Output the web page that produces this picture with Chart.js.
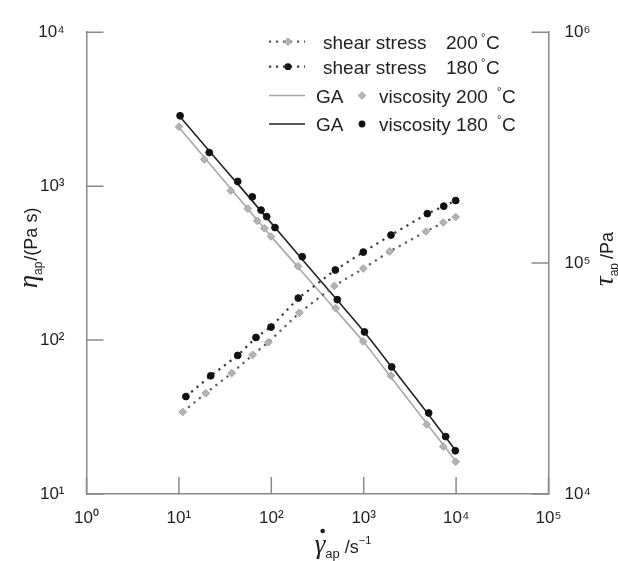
<!DOCTYPE html>
<html><head><meta charset="utf-8">
<script src="https://cdn.jsdelivr.net/npm/chart.js@4/dist/chart.umd.min.js"></script>
<style>html,body{margin:0;padding:0;background:#fff}#wrap{width:618px;height:561px;position:relative}canvas{display:block}</style>
</head><body><div id="wrap"><canvas id="c" width="618" height="561"></canvas></div>
<script>
// ---- data ----
const viscRate180 = [10.3, 21.3, 43.3, 62.3, 77.4, 89.1, 109.6, 216, 518, 1020, 2010, 5050, 7710, 9800];
const visc180     = [2864, 1652, 1072, 852, 699, 634, 538, 348, 183, 113, 66.9, 33.6, 23.6, 19.1];
const viscRate200 = [10, 18.8, 36.4, 55.6, 70.5, 84, 99.3, 194.5, 498, 982, 1974, 4810, 7270, 9900];
const visc200     = [2434, 1490, 935, 714, 595, 532, 471, 302, 161, 98, 58.6, 28.3, 20.3, 16.2];
const shearRate180 = [11.9, 22.1, 43.3, 68.3, 99.3, 196, 493, 990, 1974, 4880, 7350, 9900];
const stress180    = [26430, 32500, 39810, 47640, 52840, 70570, 93330, 111600, 132300, 163700, 176400, 186600];
const shearRate200 = [11, 19.5, 37.3, 62.9, 92.8, 201, 481, 990, 1911, 4720, 7270, 9900];
const stress200    = [22650, 27310, 33360, 40050, 45370, 60930, 79630, 94740, 112300, 137100, 149900, 158300];
const gaRate  = [9.6, 20, 50, 100, 200, 500, 1000, 2000, 5000, 10400];
const ga180   = [2960, 1770, 935, 575, 353, 186, 114, 67, 33, 18.4];
const ga200   = [2480, 1472, 769, 470, 292, 156, 97, 56.7, 27.9, 15.8];
const xTicks     = [1, 10, 100, 1000, 10000, 100000];
const leftTicks  = [10, 100, 1000, 10000];
const rightTicks = [10000, 100000, 1000000];

const FONT = "'Liberation Sans', Arial, Helvetica, sans-serif";
const SERIF = "'Liberation Serif', 'DejaVu Serif', serif";
const AXIS = '#8a8a8a';
const TXT = '#1e1e1e';
const SUP = {0:'\u2070',1:'\u00b9',2:'\u00b2',3:'\u00b3',4:'\u2074',5:'\u2075',6:'\u2076'};
const powLabel = v => { const e = Math.round(Math.log10(v)); return '10' + SUP[e]; };
const pts = (xs, ys) => xs.map((x, i) => ({x: x, y: ys[i]}));

const greyPt = {pointStyle:'rectRot', pointRadius:3.8, pointBackgroundColor:'#b4b4b4', pointBorderColor:'#a2a2a2', pointBorderWidth:1};
const blackPt = {pointStyle:'circle', pointRadius:3.4, pointBackgroundColor:'#111', pointBorderColor:'#111', pointBorderWidth:1};

const datasets = [
  Object.assign({label:'viscosity 180', data: pts(viscRate180, visc180), yAxisID:'y', showLine:false}, blackPt),
  Object.assign({label:'viscosity 200', data: pts(viscRate200, visc200), yAxisID:'y', showLine:false}, greyPt),
  Object.assign({label:'shear stress 180', data: pts(shearRate180, stress180), yAxisID:'y2', showLine:true,
    borderColor:'#3a3a3a', borderWidth:2.2, borderDash:[2.2,4.8], borderCapStyle:'butt'}, blackPt),
  Object.assign({label:'shear stress 200', data: pts(shearRate200, stress200), yAxisID:'y2', showLine:true,
    borderColor:'#5a5a5a', borderWidth:2.2, borderDash:[2.2,4.8], borderCapStyle:'butt'}, greyPt),
  {label:'GA 180', data: pts(gaRate, ga180), yAxisID:'y', showLine:true, borderColor:'#222', borderWidth:1.6, pointRadius:0, cubicInterpolationMode:'monotone'},
  {label:'GA 200', data: pts(gaRate, ga200), yAxisID:'y', showLine:true, borderColor:'#a8a8a8', borderWidth:1.6, pointRadius:0, cubicInterpolationMode:'monotone'}
];

function drawMarker(ctx, kind, x, y) {
  ctx.save();
  if (kind === 'diamond') {
    const r = 3.8;
    ctx.fillStyle = '#b4b4b4'; ctx.strokeStyle = '#a2a2a2'; ctx.lineWidth = 1;
    ctx.beginPath(); ctx.moveTo(x, y - r); ctx.lineTo(x + r, y); ctx.lineTo(x, y + r); ctx.lineTo(x - r, y); ctx.closePath();
    ctx.fill(); ctx.stroke();
  } else {
    ctx.fillStyle = '#111';
    ctx.beginPath(); ctx.arc(x, y, 3.4, 0, Math.PI * 2); ctx.fill();
  }
  ctx.restore();
}

const decor = {
  id: 'decor',
  afterDraw(chart) {
    const ctx = chart.ctx;
    const {x, y, y2} = chart.scales;
    const a = chart.chartArea;
    const TL = 17;
    ctx.save();
    ctx.strokeStyle = AXIS; ctx.lineWidth = 1.5;
    ctx.beginPath();
    xTicks.forEach(v => { const px = x.getPixelForValue(v); ctx.moveTo(px, a.bottom); ctx.lineTo(px, a.bottom - TL); });
    leftTicks.forEach(v => { const py = y.getPixelForValue(v); ctx.moveTo(a.left, py); ctx.lineTo(a.left + TL, py); });
    rightTicks.forEach(v => { const py = y2.getPixelForValue(v); ctx.moveTo(a.right, py); ctx.lineTo(a.right - TL, py); });
    ctx.stroke();
    ctx.restore();

    // legend
    ctx.save();
    ctx.fillStyle = TXT;
    ctx.textBaseline = 'alphabetic';
    const rows = [
      {cy: 41.7, line: 'dot', col: '#5a5a5a', mk: 'diamond', mkx: 288, parts: [['shear stress', 323], ['200', 446]], deg: 481},
      {cy: 66.7, line: 'dot', col: '#3a3a3a', mk: 'dot', mkx: 288, parts: [['shear stress', 323], ['180', 446]], deg: 481},
      {cy: 95.5, line: 'solid', col: '#a8a8a8', mk: 'diamond', mkx: 362, parts: [['GA', 316], ['viscosity 200', 379]], deg: 497},
      {cy: 124, line: 'solid', col: '#222', mk: 'dot', mkx: 362, parts: [['GA', 316], ['viscosity 180', 379]], deg: 497}
    ];
    rows.forEach(r => {
      ctx.save();
      ctx.strokeStyle = r.col;
      if (r.line === 'dot') { ctx.lineWidth = 2.2; ctx.setLineDash([2.2, 4.8]); }
      else { ctx.lineWidth = 1.6; }
      ctx.beginPath(); ctx.moveTo(269, r.cy); ctx.lineTo(305, r.cy); ctx.stroke();
      ctx.restore();
      drawMarker(ctx, r.mk, r.mkx, r.cy);
      ctx.font = '19px ' + FONT;
      r.parts.forEach(p => ctx.fillText(p[0], p[1], r.cy + 7));
      ctx.font = '11px ' + FONT;
      ctx.fillText('\u00b0', r.deg, r.cy - 1);
      ctx.font = '19px ' + FONT;
      ctx.fillText('C', r.deg + 5, r.cy + 7);
    });
    ctx.restore();

    // axis titles
    function seq(parts) {
      let w = 0; parts.forEach(p => { ctx.font = p[1]; p.w = ctx.measureText(p[0]).width; w += p.w + (p[3] || 0); });
      return w;
    }
    function drawSeq(parts, x0, y0) {
      let cx = x0;
      parts.forEach(p => { ctx.font = p[1]; ctx.fillText(p[0], cx, y0 + p[2]); cx += p.w + (p[3] || 0); });
    }
    ctx.save();
    ctx.fillStyle = TXT; ctx.textBaseline = 'alphabetic';
    const lp = [['\u03b7', 'italic 27px ' + SERIF, 0], ['ap', '12px ' + FONT, 5, 1], ['/(Pa s)', '18px ' + FONT, 0]];
    const lw = seq(lp);
    ctx.save(); ctx.translate(37, 248 + lw / 2); ctx.rotate(-Math.PI / 2); drawSeq(lp, 0, 0); ctx.restore();
    const rp = [['\u03c4', 'italic 27px ' + SERIF, 0], ['ap', '12px ' + FONT, 5, 4], ['/Pa', '18px ' + FONT, 0]];
    const rw = seq(rp);
    ctx.save(); ctx.translate(613, 259 + rw / 2); ctx.rotate(-Math.PI / 2); drawSeq(rp, 0, 0); ctx.restore();
    const bp = [['\u03b3', 'italic 27px ' + SERIF, 0], ['ap', '13px ' + FONT, 5, 5], ['/s', '18px ' + FONT, 0], ['\u22121', '11px ' + FONT, -9]];
    const bw = seq(bp);
    const bx = 343 - bw / 2;
    drawSeq(bp, bx, 553);
    ctx.beginPath(); ctx.arc(bx + 8, 531, 2.3, 0, Math.PI * 2); ctx.fill();
    ctx.restore();
  }
};

const tickFont = {size: 17, family: FONT};
new Chart(document.getElementById('c'), {
  type: 'scatter',
  data: {datasets: datasets},
  options: {
    responsive: false, animation: false, devicePixelRatio: 1,
    layout: {padding: {top: 25, left: 0, right: 0, bottom: 0}},
    plugins: {legend: {display: false}, tooltip: {enabled: false}},
    scales: {
      x: {type: 'logarithmic', position: 'bottom', min: 1, max: 100000,
        afterBuildTicks: s => { s.ticks = xTicks.map(v => ({value: v})); },
        afterFit: s => { s.height = 67; },
        grid: {display: true, drawOnChartArea: false, drawTicks: false},
        border: {display: true, color: AXIS, width: 1.5},
        ticks: {callback: v => powLabel(v), padding: 14, font: tickFont, color: TXT, maxRotation: 0, autoSkip: false}},
      y: {type: 'logarithmic', position: 'left', min: 10, max: 10000,
        afterBuildTicks: s => { s.ticks = leftTicks.map(v => ({value: v})); },
        afterFit: s => { s.width = 86.5; },
        grid: {display: true, drawOnChartArea: false, drawTicks: false},
        border: {display: true, color: AXIS, width: 1.5},
        ticks: {callback: v => powLabel(v), padding: 22, font: tickFont, color: TXT, autoSkip: false}},
      y2: {type: 'logarithmic', position: 'right', min: 10000, max: 1000000,
        afterBuildTicks: s => { s.ticks = rightTicks.map(v => ({value: v})); },
        afterFit: s => { s.width = 69.5; },
        grid: {display: true, drawOnChartArea: false, drawTicks: false},
        border: {display: true, color: AXIS, width: 1.5},
        ticks: {callback: v => powLabel(v), padding: 16, font: tickFont, color: TXT, autoSkip: false}}
    }
  },
  plugins: [decor]
});
</script></body></html>
